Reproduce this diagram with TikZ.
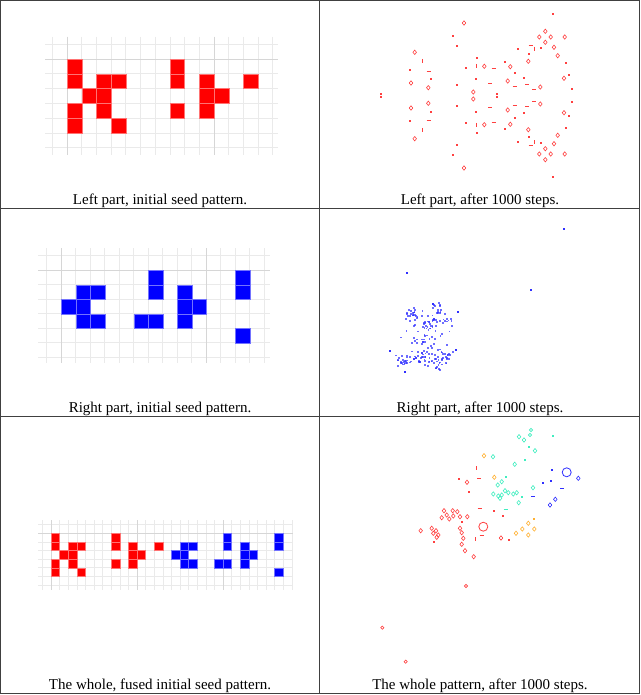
\documentclass[tikz,border=0pt]{standalone}
\usepackage{fontspec}
\setmainfont{Liberation Serif}
\definecolor{framec}{HTML}{404040}
\definecolor{sred}{HTML}{FF4040}
\definecolor{sblue}{HTML}{3030FF}
\definecolor{scyan}{HTML}{40EEC0}
\definecolor{sorange}{HTML}{FFB030}
\definecolor{gminor}{HTML}{EAEAEA}
\definecolor{gmajor}{HTML}{D6D6D6}
\newcommand{\mkTd}[3]{\fill[#3,shift={(#1,#2)}] (-1.1,-1.1) rectangle (1.1,1.1);}
\newcommand{\mkTr}[3]{\draw[#3,line width=0.6pt,shift={(#1,#2)}] (0,-2.2) -- (1.8,0) -- (0,2.2) -- (-1.8,0) -- cycle;}
\newcommand{\mkTc}[3]{\draw[#3,line width=0.6pt] (#1,#2) circle[radius=1.6pt];}
\newcommand{\mkTB}[3]{\draw[#3,line width=0.8pt] (#1,#2) circle[radius=4.5pt];}
\newcommand{\mkTh}[3]{\draw[#3,line width=0.9pt,shift={(#1,#2)}] (-2,0) -- (2,0);}
\newcommand{\mkTv}[3]{\draw[#3,line width=0.9pt,shift={(#1,#2)}] (0,-2) -- (0,2);}
\newcommand{\mkr}[4]{\csname mkT#1\endcsname{#2}{#3}{#4}}
\newcommand{\bclump}[5]{% cx, cy, rx, ry, n
  \foreach \k in {1,...,#5}{
    \pgfmathsetmacro\qx{#1+#3*(rnd+rnd-1)}
    \pgfmathsetmacro\qy{#2+#4*(rnd+rnd-1)}
    \fill[sblue,opacity=0.7] (\qx-0.9,\qy-0.9) rectangle (\qx+0.9,\qy+0.9);
  }}
\tikzset{
  gridln/.style={gminor,line width=0.8pt},
  gridmj/.style={gmajor,line width=0.9pt},
  redcell/.style={fill=red,draw=red!55!white,line width=0.4pt},
  bluecell/.style={fill=blue,draw=blue!55!white,line width=0.4pt},
  frameln/.style={framec,line width=0.9pt},
  caption/.style={anchor=base,inner sep=0pt,font=\fontsize{15}{18}\selectfont}
}
\begin{document}
\begin{tikzpicture}[x=1pt,y=-1pt]
\useasboundingbox (0,0) rectangle (640,695);
\fill[white] (0,0) rectangle (640,695);
% ---------- grid 1 : left part ----------
\begin{scope}[shift={(52.3,44.3)}]
  \foreach \i in {0,...,15} \draw[gridln] (\i*14.7,-7.6) -- (\i*14.7,110.7);
  \foreach \j in {0,...,7} \draw[gridln] (-7.3,\j*14.8) -- (225.7,\j*14.8);
  \foreach \i in {1,11} \draw[gridmj] (\i*14.7,-7.6) -- (\i*14.7,110.7);
  \draw[gridmj] (-7.3,14.8) -- (225.7,14.8);
  \foreach \c/\r in {1/1,1/2,3/2,4/2,2/3,3/3,1/4,3/4,1/5,4/5,8/1,8/2,10/2,13/2,10/3,11/3,8/4,10/4}
    \path[redcell] (\c*14.7,\r*14.8) rectangle ++(14.7,14.8);
\end{scope}
% ---------- grid 2 : right part ----------
\begin{scope}[shift={(46.7,255.7)}]
  \foreach \i in {0,...,15} \draw[gridln] (\i*14.5,-7.4) -- (\i*14.5,107.6);
  \foreach \j in {0,...,7} \draw[gridln] (-8.4,\j*14.5) -- (223.3,\j*14.5);
  \foreach \i in {1,11} \draw[gridmj] (\i*14.5,-7.4) -- (\i*14.5,107.6);
  \draw[gridmj] (-8.4,14.5) -- (223.3,14.5);
  \foreach \c/\r in {2/2,3/2,1/3,2/3,2/4,3/4,7/1,7/2,6/4,7/4,9/2,9/3,9/4,10/3,13/1,13/2,13/5}
    \path[bluecell] (\c*14.5,\r*14.5) rectangle ++(14.5,14.5);
\end{scope}
% ---------- grid 3 : whole ----------
\begin{scope}[shift={(42.4,524.7)}]
  \foreach \i in {0,...,29} \draw[gridln,line width=0.6pt] (\i*8.6,-4.7) -- (\i*8.6,65.3);
  \foreach \j in {0,...,7} \draw[gridln,line width=0.6pt] (-4.4,\j*8.6) -- (250.6,\j*8.6);
  \foreach \i in {1,11,21} \draw[gridmj,line width=0.7pt] (\i*8.6,-4.7) -- (\i*8.6,65.3);
  \draw[gridmj,line width=0.7pt] (-4.4,8.6) -- (250.6,8.6);
  \foreach \c/\r in {1/1,1/2,3/2,4/2,2/3,3/3,1/4,3/4,1/5,4/5,8/1,8/2,10/2,13/2,10/3,11/3,8/4,10/4}
    \path[redcell] (\c*8.6,\r*8.6) rectangle ++(8.6,8.6);
  \foreach \c/\r in {16/2,17/2,15/3,16/3,16/4,17/4,21/1,21/2,20/4,21/4,23/2,23/3,23/4,24/3,27/1,27/2,27/5}
    \path[bluecell] (\c*8.6,\r*8.6) rectangle ++(8.6,8.6);
\end{scope}
% ---------- scatter 1 : left part after 1000 steps (mirror symmetric) ----------
\foreach \t/\px/\py in {d/552.7/14.3, r/464/23, r/545.3/31.3, r/539.3/37, r/550.7/37, r/564.7/37,
  d/452.7/36, r/545.3/42.3, d/457.3/46, h/530.7/45.3, v/534/48.7, d/517.7/49.3, d/541/48.3,
  r/554/47.3, d/528.7/53.7, r/414.7/52.3, r/557.7/55.7, d/477/58.3, v/422.7/61, r/528.3/61.3,
  d/505.3/62, d/565.7/63.3, d/466.3/68, v/476.7/66, r/484.3/66.3, h/493.7/68.3, r/510.3/66.7,
  d/409.7/70.3, h/428.7/71, d/515.3/73, d/569.3/75.3, d/523.7/77.7, d/430.7/79, d/476/79,
  r/564/78.3, r/507.7/81, r/411/83, h/490/83.3, d/457.3/85, h/514.7/86, h/527/84.7, r/540.3/87,
  r/428.3/87.7, h/534/89.7, d/571.7/89, r/473.3/92, d/496.7/93.7, d/381.3/93.7}
{
  \mkr{\t}{\px}{\py}{sred}
  \mkr{\t}{\px}{191-\py}{sred}
}
% ---------- scatter 2 : right part after 1000 steps ----------
\pgfmathsetseed{4217}
\bclump{411}{315}{8}{11}{22}
\bclump{430}{325}{9}{9}{22}
\bclump{437}{310}{8}{8}{12}
\bclump{447}{320}{10}{9}{10}
\bclump{422}{341}{16}{8}{14}
\bclump{404}{359}{11}{10}{26}
\bclump{422}{358}{11}{9}{26}
\bclump{438}{362}{11}{10}{22}
\bclump{448}{354}{10}{8}{10}
\bclump{425}{338}{34}{38}{40}
\foreach \px/\py in {564/229.3, 407/272.7, 531/290, 433.3/304, 390/350.7, 405/371.7, 458/311.7, 456/350}
  \fill[sblue] (\px-1.1,\py-1.1) rectangle (\px+1.1,\py+1.1);
% ---------- scatter 3 : whole pattern after 1000 steps ----------
\foreach \t/\px/\py in {c/531/430, c/530/435, r/519/436.7, r/524/440, d/552.7/436, d/528.7/446.7,
  r/535/450.7, d/525/460.3, r/514.7/464.3, r/493/456.7, d/506/477.3, r/501.7/481.7, r/497.7/485,
  r/493.3/494, r/498.3/496, r/501.7/495, r/505/490.7, r/508.3/492.7, r/513.3/494, r/516.7/492.7,
  r/500/498.3, d/522/496.7, r/518.7/502.7, r/533/487.7, h/505.7/509.3}
  {\mkr{\t}{\px}{\py}{scyan}}
\foreach \t/\px/\py in {r/484/455.7, r/494.3/477.3, d/534/518.7, r/528.3/523.3, r/522.3/529,
  r/534.3/529, r/516/533.3, r/528.3/535}
  {\mkr{\t}{\px}{\py}{sorange}}
\foreach \t/\px/\py in {B/566.7/472.3, d/552.3/470.3, r/578.3/478.3, d/551.3/481.3, d/542.7/482.7,
  h/562/488.3, h/533.3/496, r/555.3/499.3, r/550/505}
  {\mkr{\t}{\px}{\py}{sblue}}
\foreach \t/\px/\py in {v/476.7/468.3, d/459/479, r/467/482.3, h/479.3/478.3, d/468.7/492.3,
  h/479.7/508, d/493.7/511, d/502.7/516.3, r/444/510.7, r/446.7/515, r/441.7/517.7, r/452.7/510.7,
  r/457.3/511.7, r/453.3/516, r/460/516.7, r/467.3/516.7, r/449.3/519, d/461.7/521.7, r/420.7/530.7,
  r/431.7/528.3, r/436/530.7, r/438.3/535, r/433.3/533.3, r/436.7/537.3, d/434/542.3, r/460/528.3,
  r/461.7/532.7, r/463.3/538.3, r/461.7/544.3, r/465/550.7, r/473.7/556.7, B/483.3/526.7,
  v/475/539, r/501/538, d/508.7/539.7, h/481.7/535, c/466/586, c/382.3/627.7, c/405.7/661.7}
  {\mkr{\t}{\px}{\py}{sred}}
% ---------- captions ----------
\node[caption] (cap1) at (160,204.5) {Left part, initial seed pattern.};
\node[caption] (cap2) at (480,204.5) {Left part, after 1000 steps.};
\node[caption] (cap3) at (160,412.3) {Right part, initial seed pattern.};
\node[caption] (cap4) at (480,412.3) {Right part, after 1000 steps.};
\node[caption] (cap5) at (160,689.3) {The whole, fused initial seed pattern.};
\node[caption] (cap6) at (480,689.3) {The whole pattern, after 1000 steps.};
% ---------- table frame ----------
\draw[frameln] (0.5,0.5) rectangle (639.3,693.5);
\draw[frameln] (319.3,0.5) -- (319.3,693.5);
\draw[frameln] (0.5,208.3) -- (639.3,208.3);
\draw[frameln] (0.5,416.7) -- (639.3,416.7);
\end{tikzpicture}
\end{document}
